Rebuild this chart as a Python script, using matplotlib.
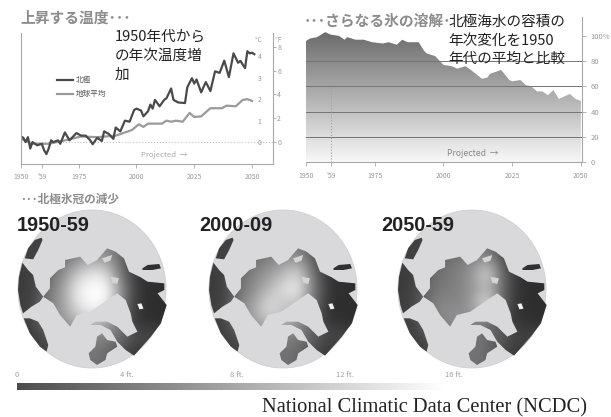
import matplotlib
matplotlib.use('Agg')
import matplotlib.pyplot as plt
import numpy as np
from matplotlib.path import Path
from matplotlib.patches import Ellipse, PathPatch

plt.rcParams['font.family'] = ['Noto Sans CJK JP', 'DejaVu Sans']

W, H = 611, 417

# temperature chart, deg C vs 1950s average
north_years = [1950, 1951, 1952, 1953, 1954, 1955, 1957, 1959, 1960, 1961, 1962, 1963, 1964, 1966, 1967, 1969,
               1971, 1974, 1976, 1978, 1980, 1981, 1983, 1985, 1986, 1988, 1990, 1991, 1993, 1995, 1997, 1999,
               2000, 2002, 2003, 2005, 2006, 2007, 2008, 2010, 2012, 2013, 2015, 2016, 2018, 2021, 2022, 2024,
               2025, 2026, 2028, 2030, 2032, 2034, 2036, 2038, 2040, 2042, 2044, 2045, 2047, 2048, 2049, 2050, 2051]
north_temp = [.26, .2, 0, .23, -.3, 0, -.15, -.08, -.38, -.56, -.3, .08, 0, .08, -.08, .45,
              .08, .42, .3, .3, .08, -.1, .2, .05, .5, .38, .15, .68, .5, 1.0, .95, 1.5,
              1.56, 1.47, 1.2, 1.44, 1.75, 1.56, 1.97, 1.67, 1.97, 2.05, 2.5, 1.97, 1.85, 1.82, 2.56, 2.98,
              2.73, 2.92, 2.32, 2.8, 2.38, 3.3, 3.23, 3.8, 3.03, 4.14, 3.7, 3.79, 3.45, 4.24, 4.14, 4.17, 4.1]
global_years = [1950, 1955, 1962, 1969, 1976, 1983, 1991, 1998, 2001, 2003, 2005, 2011, 2013, 2015, 2017, 2020,
                2023, 2025, 2028, 2032, 2037, 2039, 2043, 2046, 2048, 2050]
global_temp = [.15, -.08, -.08, .08, .26, .23, .3, .56, .83, .71, .86, .86, 1.0, .95, 1.0, .95,
               1.36, 1.17, 1.2, 1.58, 1.58, 1.7, 1.67, 1.97, 2.0, 1.92]

# sea ice volume, percent of 1950s
ice_years = [1950, 1951.5, 1954, 1957, 1959, 1962, 1964, 1965, 1968, 1971, 1974, 1978, 1980, 1983, 1985, 1987,
             1991, 1993, 1994, 1997, 2000, 2003, 2005, 2008, 2010, 2014, 2016, 2017, 2021, 2024, 2025, 2028,
             2030, 2032, 2034, 2036, 2038, 2040, 2042, 2045, 2046, 2048, 2050]
ice_pct = [96, 98, 99, 103, 101, 100, 97, 99, 97, 97, 95, 94, 95, 93, 97, 95,
           95, 88, 86, 84, 77, 76, 74, 76, 73, 66, 67, 70, 73, 65, 64, 65,
           61, 60, 56, 56, 53, 57, 50, 53, 54, 50, 48.5]

x_ticks = [1950, 1959, 1975, 2000, 2025, 2050]
x_labels = ['1950', "'59", '1975', '2000', '2025', '2050']

# ice thickness brightness on a coarse grid, one row per latitude band of each map
map_titles = ['1950-59', '2000-09', '2050-59']
thick_1950 = [
    [.25, .25, .25, .25, .25, .25, .25, .25, .25, .25, .25],
    [.25, .25, .25, .25, .35, .40, .40, .33, .25, .22, .22],
    [.25, .25, .25, .30, .45, .50, .50, .40, .24, .20, .20],
    [.25, .25, .30, .42, .55, .60, .58, .40, .22, .20, .20],
    [.24, .24, .42, .55, .78, .92, .85, .42, .20, .18, .18],
    [.24, .24, .45, .62, .95, 1.0, 1.0, .55, .22, .18, .18],
    [.24, .26, .50, .62, .90, 1.0, .95, .50, .20, .18, .18],
    [.24, .26, .50, .60, .72, .80, .70, .40, .20, .18, .18],
    [.24, .24, .30, .42, .50, .50, .50, .45, .28, .30, .26],
    [.25, .25, .25, .35, .40, .48, .42, .28, .20, .25, .25],
    [.25, .25, .25, .25, .42, .45, .40, .25, .25, .25, .25]]
thick_2000 = [
    [.25, .25, .25, .25, .25, .25, .25, .25, .25, .25, .25],
    [.25, .25, .25, .25, .32, .35, .35, .30, .25, .22, .22],
    [.25, .25, .25, .30, .42, .45, .45, .36, .22, .20, .20],
    [.25, .25, .30, .42, .50, .55, .58, .36, .20, .20, .20],
    [.24, .24, .42, .52, .60, .72, .85, .45, .20, .18, .18],
    [.24, .24, .45, .55, .72, .88, .95, .50, .22, .18, .18],
    [.24, .26, .50, .65, .90, .75, .78, .45, .20, .18, .18],
    [.24, .26, .50, .65, .78, .75, .60, .35, .20, .18, .18],
    [.24, .24, .30, .42, .50, .50, .48, .40, .28, .30, .26],
    [.25, .25, .25, .35, .40, .45, .42, .28, .20, .25, .25],
    [.25, .25, .25, .25, .42, .45, .40, .25, .25, .25, .25]]
thick_2050 = [
    [.25, .25, .25, .25, .25, .25, .25, .25, .25, .25, .25],
    [.25, .25, .25, .25, .32, .33, .33, .28, .22, .22, .22],
    [.25, .25, .25, .30, .42, .44, .42, .32, .20, .20, .20],
    [.25, .25, .30, .42, .46, .50, .55, .32, .20, .20, .20],
    [.24, .24, .40, .46, .50, .60, .90, .42, .20, .18, .18],
    [.24, .24, .42, .48, .50, .58, .70, .42, .20, .18, .18],
    [.24, .26, .45, .55, .52, .62, 1.0, .40, .20, .18, .18],
    [.24, .26, .45, .55, .58, .55, .45, .30, .20, .18, .18],
    [.24, .24, .30, .42, .45, .45, .42, .36, .26, .28, .26],
    [.25, .25, .25, .35, .40, .48, .42, .28, .20, .25, .25],
    [.25, .25, .25, .25, .42, .45, .40, .25, .25, .25, .25]]
map_fields = [thick_1950, thick_2000, thick_2050]
map_centres = [92, 283, 472]
title_lefts = [17, 199, 381]

# open water outlines, traced on the first map (zoomed pixel coordinates)
water_shapes = [
    [(125, 143), (105, 150), (85, 175), (75, 205), (100, 208), (115, 180), (128, 150)],
    [(68, 218), (58, 260), (55, 300), (62, 345), (70, 370), (95, 350), (120, 335), (130, 320), (108, 290),
     (100, 255), (85, 240)],
    [(72, 385), (90, 430), (120, 470), (140, 485), (145, 465), (130, 420), (115, 395), (90, 385)],
    [(130, 320), (150, 295), (150, 265), (175, 240), (195, 232), (195, 210), (240, 200), (262, 225), (290, 210),
     (320, 175), (345, 185), (370, 205), (385, 245), (420, 262), (440, 275), (490, 280), (490, 300), (470, 310),
     (497, 345), (480, 400), (450, 440), (400, 497), (375, 480), (350, 455), (330, 420), (300, 405), (270, 405),
     (285, 395), (320, 395), (350, 410), (380, 440), (410, 425), (395, 395), (390, 370), (375, 330), (350, 310),
     (320, 330), (270, 365), (230, 375), (210, 410), (180, 375), (160, 340)],
    [(425, 235), (440, 225), (475, 222), (480, 235), (455, 240), (425, 240)],
    [(265, 490), (285, 470), (290, 440), (305, 430), (320, 450), (345, 455), (350, 470), (320, 490), (315, 510),
     (290, 525), (270, 510)]]
land_spots = [[(305, 205), (335, 195), (330, 212), (312, 218)], [(330, 260), (355, 265), (350, 282), (335, 278)]]
white_spots = [[(410, 342), (422, 340), (428, 356), (416, 358)]]

gray_txt = '#8c8c8c'
axis_col = '#a8a8a8'
fig = plt.figure(figsize=(W / 100, H / 100), dpi=100, facecolor='white')


def axes_px(left, top, right, bottom):
    return fig.add_axes([left / W, 1 - bottom / H, (right - left) / W, (bottom - top) / H])


def style_chart(ax):
    ax.patch.set_alpha(0)
    ax.spines['top'].set_visible(False)
    for name in ['left', 'right', 'bottom']:
        ax.spines[name].set_color(axis_col)
    ax.yaxis.tick_right()
    ax.set_xticks(x_ticks, x_labels)
    ax.tick_params(colors=axis_col, labelcolor='#999999', labelsize=5, length=3, width=.6, pad=4)


# temperature chart
ax1 = axes_px(21, 33, 273, 163.5)
ax1.set_xlim(1950, 2059.1)
ax1.set_ylim(-1, 5.09)
style_chart(ax1)
ax1.axhline(0, color='#c0c0c0', lw=.8, ls=':')
ax1.plot(global_years, global_temp, color='#9a9a9a', lw=1.6)
ax1.plot(north_years, north_temp, color='#4a4a4a', lw=1.6)
ax1.set_yticks([0, 1, 2, 3, 4])
ax1.tick_params(axis='y', pad=-11, length=0)
f_axis = ax1.secondary_yaxis('right', functions=(lambda c: c * 1.8, lambda f: f / 1.8))
f_axis.set_yticks([0, 2, 4, 6, 8])
f_axis.spines['right'].set_visible(False)
f_axis.tick_params(colors=axis_col, labelcolor='#999999', labelsize=5, length=2, width=.6, pad=1)
ax1.text(2022, -.6, 'Projected  \u2192', color='#aaaaaa', fontsize=5.6, ha='right', va='center')
ax1.text(2052.5, 4.75, '\u2103', color='#aaaaaa', fontsize=4.8, ha='center', va='center')
ax1.text(2061, 4.75, '\u2109', color='#aaaaaa', fontsize=4.8, ha='center', va='center', clip_on=False)

# sea ice chart
ax2 = axes_px(306, 17, 582, 162)
ax2.set_xlim(1950, 2050.4)
ax2.set_ylim(0, 115)
style_chart(ax2)
ax2.spines['left'].set_visible(False)
area = ax2.fill_between(ice_years, ice_pct, 0, color='none')
grad = np.linspace(.42, .97, 200).reshape(-1, 1)
im = ax2.imshow(grad, cmap='gray', vmin=0, vmax=1, aspect='auto', extent=(1950, 2050, 0, 103), zorder=1)
clip_path = area.get_paths()[0]
im.set_clip_path(PathPatch(clip_path, transform=ax2.transData))
ax2.set_xlim(1950, 2050.4)
ax2.set_ylim(0, 115)
ax2.set_yticks([0, 20, 40, 60, 80, 100], ['0', '20', '40', '60', '80', '100%'])
for v in [20, 40, 60, 80]:
    ax2.axhline(v, color='#757575', lw=.7, zorder=2)
ax2.plot([1959, 1959], [0, 66], color='#a0a0a0', lw=.8, ls=':', zorder=3)
ax2.text(2020, 7, 'Projected  \u2192', color='#888888', fontsize=6.2, ha='right', va='center', zorder=3)
ax2.tick_params(axis='y', pad=3, labelsize=5.5)

# page level overlay: maps, colour bar and text
ax0 = fig.add_axes([0, 0, 1, 1], zorder=-1)
ax0.set_xlim(0, W)
ax0.set_ylim(H, 0)
ax0.axis('off')
over = fig.add_axes([0, 0, 1, 1], zorder=5)
over.set_xlim(0, W)
over.set_ylim(H, 0)
over.axis('off')

cy, rx, ry = 289, 74, 79


def to_page(shape, cx):
    pts = np.array(shape, dtype=float)
    return np.column_stack([cx + (pts[:, 0] - 275) / 220 * rx, cy + (pts[:, 1] - 297) / 237 * ry])


def closed(pts):
    codes = [Path.MOVETO] + [Path.LINETO] * (len(pts) - 1) + [Path.CLOSEPOLY]
    return Path(np.vstack([pts, pts[0]]), codes)


for title, field, cx, tx in zip(map_titles, map_fields, map_centres, title_lefts):
    ax0.add_patch(Ellipse((cx, cy), 2 * rx, 2 * ry, fc='#d9d9db', ec='#cfcfcf', lw=.6, zorder=1))
    water = Path.make_compound_path(*[closed(to_page(s, cx)) for s in water_shapes])
    img = ax0.imshow(field, cmap='gray', vmin=0, vmax=1, aspect='auto', interpolation='bicubic', zorder=2,
                     extent=(cx - 1.1 * rx, cx + 1.1 * rx, cy + 1.1 * ry, cy - 1.1 * ry))
    img.set_clip_path(PathPatch(water, transform=ax0.transData))
    for s in land_spots:
        ax0.add_patch(PathPatch(closed(to_page(s, cx)), fc='#d4d4d4', ec='none', zorder=3))
    for s in white_spots:
        ax0.add_patch(PathPatch(closed(to_page(s, cx)), fc='#f2f2f2', ec='none', zorder=3))
    over.text(tx, 225, title, color='#222222', fontsize=14.3, fontweight='bold', family='Liberation Sans',
              ha='left', va='center')

ax0.imshow(np.linspace(.3, 1, 256).reshape(1, -1), cmap='gray', vmin=0, vmax=1, aspect='auto',
           extent=(17, 445, 390, 383), zorder=1)
ax0.set_xlim(0, W)
ax0.set_ylim(H, 0)

for label, x in zip(['0', '4 ft.', '8 ft.', '12 ft.', '16 ft.'], [17, 127, 237, 345, 454]):
    over.text(x, 375, label, color='#a0a0a0', fontsize=5.5, ha='center', va='center')

over.text(20, 18, '上昇する温度･･･', color=gray_txt, fontsize=10.6, fontweight='bold', ha='left', va='center')
over.text(304, 21, '･･･さらなる氷の溶解･', color=gray_txt, fontsize=10.6, fontweight='bold', ha='left', va='center')
over.text(20, 199, '･･･北極氷冠の減少', color=gray_txt, fontsize=8.4, fontweight='bold', ha='left', va='center')

for i, line in enumerate(['1950年代から', 'の年次温度増', '加']):
    over.text(115, 37 + i * 19, line, color='#222222', fontsize=10.5, ha='left', va='center')
for i, line in enumerate(['北極海水の容積の', '年次変化を1950', '年代の平均と比較']):
    over.text(448, 22 + i * 18.5, line, color='#222222', fontsize=10.5, ha='left', va='center')

over.plot([57, 73], [80, 80], color='#4a4a4a', lw=1.6)
over.plot([57, 73], [94, 94], color='#9a9a9a', lw=1.6)
over.text(76, 80, '北極', color='#555555', fontsize=5.5, ha='left', va='center')
over.text(76, 94, '地球平均', color='#555555', fontsize=5.5, ha='left', va='center')

over.text(587, 408, 'National Climatic Data Center (NCDC)', color='#222222', fontsize=14.8,
          family='Liberation Serif', ha='right', va='center')

fig.savefig('out.png', dpi=100, facecolor='white')
